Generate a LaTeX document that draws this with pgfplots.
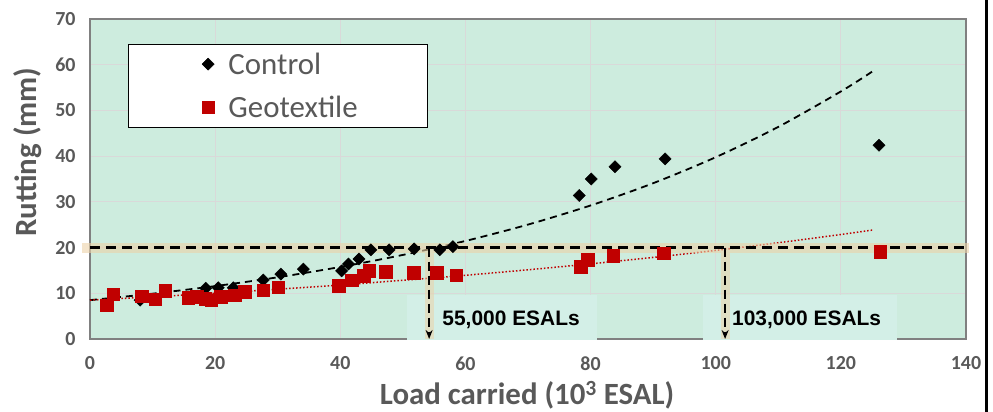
\documentclass[border=0pt]{standalone}
\usepackage{fontspec}
\setmainfont{Carlito}
\newfontfamily\arialfont{Liberation Sans}
\usepackage{pgfplots}
\pgfplotsset{compat=1.18}
\usetikzlibrary{arrows.meta}

\definecolor{mint}{RGB}{205,236,222}
\definecolor{gridc}{RGB}{217,217,217}
\definecolor{axgrey}{RGB}{128,128,128}
\definecolor{txtgrey}{RGB}{89,89,89}
\definecolor{geored}{RGB}{192,0,0}
\definecolor{glow}{RGB}{236,210,168}
\definecolor{labelbg}{RGB}{211,239,231}

\begin{document}
\begin{tikzpicture}
\path[use as bounding box] (0,0) rectangle (993bp,412bp);
\begin{axis}[
    at={(90bp,73bp)},
    scale only axis,
    width=876bp, height=320bp,
    xmin=0, xmax=140, ymin=0, ymax=70,
    xtick={0,20,...,140}, ytick={0,10,...,70},
    clip=false,
    axis background/.style={fill=mint},
    grid=major,
    grid style={gridc, line width=0.8bp},
    axis line style={axgrey, line width=1.5bp},
    tick style={draw=none},
    /pgf/number format/assume math mode=true,
    ticklabel style={font=\fontsize{20}{24}\selectfont\bfseries, text=txtgrey},
    xticklabel shift=14bp,
    yticklabel shift=11bp,
    xlabel={Load carried (10\textsuperscript{3} ESAL)},
    xlabel style={at={(axis description cs:0.499,-0.175)}, anchor=center,
        font=\fontsize{31}{36}\selectfont\bfseries, text=txtgrey},
    ylabel={Rutting (mm)},
    ylabel style={at={(axis description cs:-0.071,0.584)}, anchor=center,
        font=\fontsize{31}{36}\selectfont\bfseries, text=txtgrey},
    legend image code/.code={\draw[#1] plot coordinates {(0bp,-1bp)};},
    legend style={at={(axis cs:17.85,62.8)}, anchor=north west,
        draw=none, fill=none, inner sep=0pt,
        font=\fontsize{31}{36}\selectfont, text=txtgrey,
        nodes={inner sep=0pt, text height=22bp, text depth=0bp},
        column sep=14bp, row sep=21bp},
    legend cell align=left,
]
% label backgrounds and legend frame
\fill[labelbg] (axis cs:50.7,9.6) rectangle (axis cs:81.0,-0.3);
\fill[labelbg] (axis cs:98.0,9.6) rectangle (axis cs:129.0,-0.3);
\draw[black, line width=1bp, fill=white] (axis cs:6.23,64.5) rectangle (axis cs:53.86,46.2);

\addplot[only marks, mark=square*, mark size=4.3bp,
    mark options={rotate=45, fill=black, draw=black}]
coordinates {
(8.0,8.5) (18.5,11.1) (20.5,11.2) (22.9,11.2) (27.7,12.9) (30.5,14.2)
(34.1,15.3) (40.2,14.9) (41.3,16.4) (43.0,17.5) (44.9,19.5) (47.8,19.5)
(51.8,19.7) (55.9,19.5) (58.0,20.2) (78.2,31.4) (80.1,35.0) (83.9,37.7)
(91.9,39.4) (126.1,42.4)
};
\addplot[only marks, mark=square*, mark size=6.3bp,
    mark options={fill=geored, draw=geored}]
coordinates {
(2.7,7.4) (3.7,9.8) (8.3,9.4) (10.4,8.7) (12.0,10.6) (15.7,9.0) (17.1,9.2)
(18.4,8.8) (19.4,8.5) (20.9,9.3) (23.1,9.6) (24.7,10.4) (27.7,10.7)
(30.1,11.3) (39.7,11.7) (41.8,12.9) (43.7,13.8) (44.6,14.9) (47.3,14.7)
(51.7,14.5) (55.4,14.5) (58.5,14.0) (78.4,15.8) (79.5,17.3) (83.6,18.2)
(91.7,18.8) (126.3,19.1)
};
\legend{Control, Geotextile}

% trend lines
\addplot[forget plot, black, line width=1.8bp, dash pattern=on 7bp off 5bp, smooth]
coordinates {
(0,8.50) (10,9.92) (20,11.57) (30,13.50) (40,15.76) (50,18.39) (60,21.45)
(70,25.03) (80,29.21) (90,34.08) (100,39.77) (110,46.40) (120,54.15) (125,58.49)
};
\addplot[forget plot, geored, line width=1.5bp, dash pattern=on 1.5bp off 2bp, smooth]
coordinates {
(0,8.50) (10,9.23) (20,10.02) (30,10.88) (40,11.82) (50,12.84) (60,13.94)
(70,15.14) (80,16.44) (90,17.85) (100,19.38) (110,21.05) (120,22.86) (125,23.82)
};

% 20 mm limit and crossing markers
\addplot[forget plot, glow, line width=10bp, opacity=0.6] coordinates {(-1.2,20) (140.4,20)};
\addplot[forget plot, glow, line width=9bp, opacity=0.55] coordinates {(54.2,18.9) (54.2,0)};
\addplot[forget plot, glow, line width=9bp, opacity=0.55] coordinates {(101.5,18.9) (101.5,0)};
\addplot[forget plot, black, line width=3bp, dash pattern=on 10bp off 6bp] coordinates {(0,20) (140.3,20)};
\addplot[forget plot, black, line width=2.5bp, dash pattern=on 9bp off 5bp,
    -{Stealth[length=9bp,width=7bp]}] coordinates {(54.2,20) (54.2,0)};
\addplot[forget plot, black, line width=2.5bp, dash pattern=on 9bp off 5bp,
    -{Stealth[length=9bp,width=7bp]}] coordinates {(101.5,20) (101.5,0)};

\node[anchor=west, inner sep=0pt, font=\fontsize{21}{24}\selectfont\arialfont\bfseries]
    at (axis cs:56.3,4.2) {55,000 ESALs};
\node[anchor=west, inner sep=0pt, font=\fontsize{21}{24}\selectfont\arialfont\bfseries]
    at (axis cs:102.6,4.2) {103,000 ESALs};
\end{axis}
\draw[black, line width=3bp] (986bp,0) -- (986bp,412bp);
\end{tikzpicture}
\end{document}
